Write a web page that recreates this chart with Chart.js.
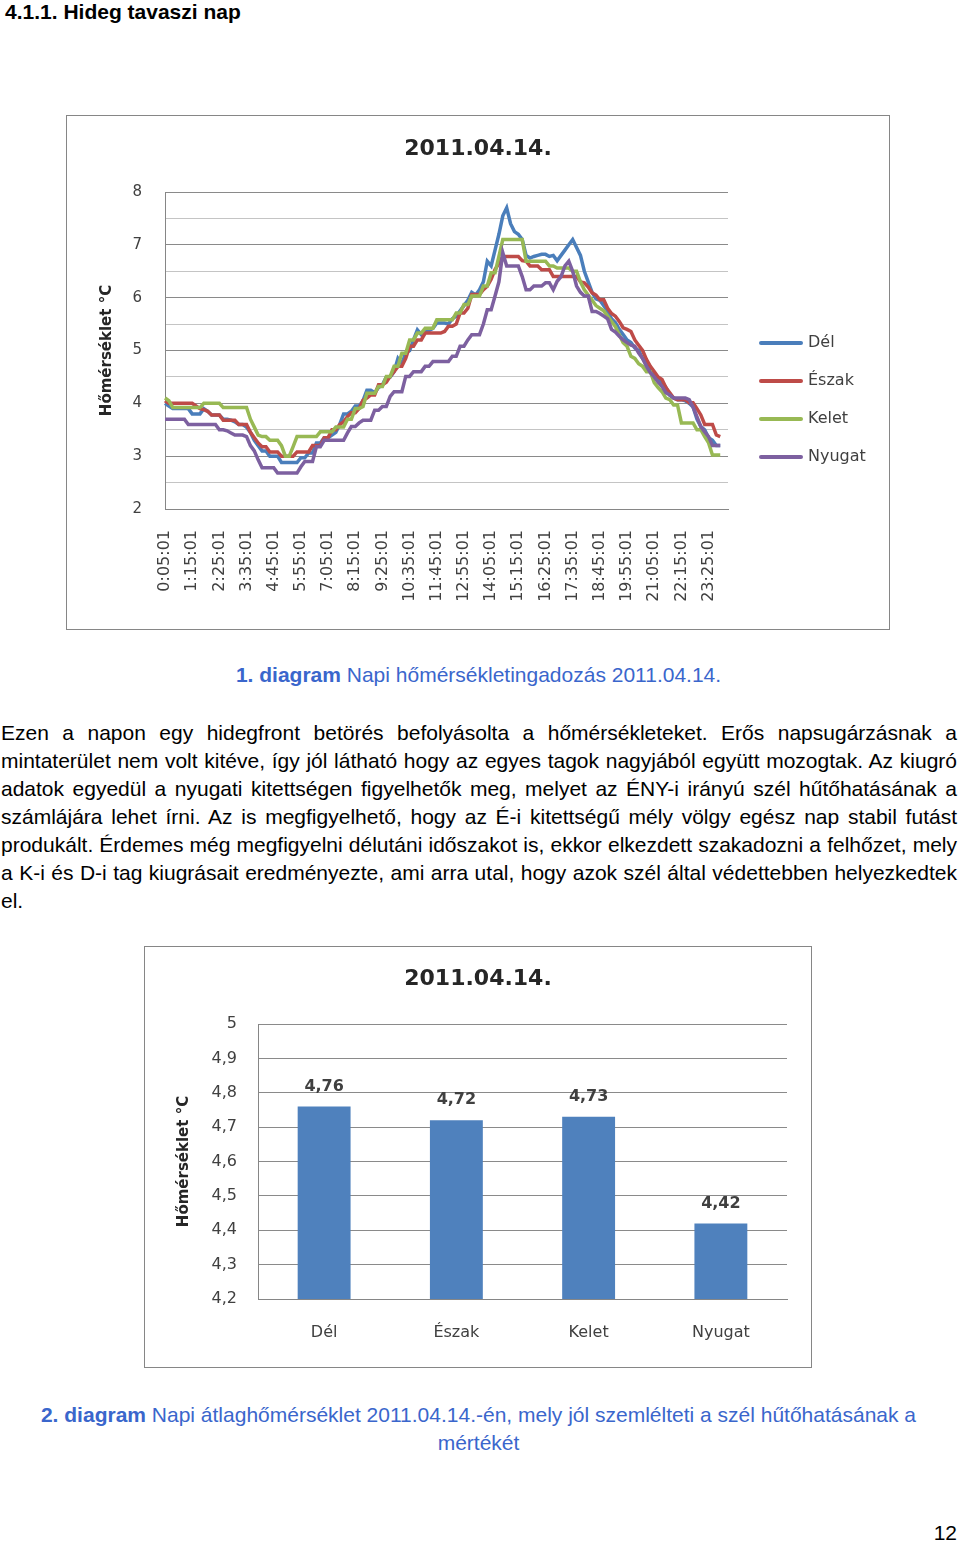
<!DOCTYPE html>
<html lang="hu">
<head>
<meta charset="utf-8">
<script src="https://cdn.jsdelivr.net/npm/chart.js@4"></script>
<style>
  html, body { margin: 0; padding: 0; background: #fff; }
  body { position: relative; width: 960px; height: 1543px; font-family: "Liberation Sans", Arial, sans-serif; color: #000; overflow: hidden; }
  h1 { position: absolute; left: 5px; top: 0; margin: 0; font-size: 21px; line-height: 24px; font-weight: bold; }
  .box { position: absolute; box-sizing: border-box; border: 1px solid #868686; background: #fff; }
  .box canvas { display: block; }
  .caption { position: absolute; left: 0; width: 957px; text-align: center; font-size: 21px; line-height: 27.5px; color: #3a66cc; }
  .caption b { font-weight: bold; }
  .para { position: absolute; left: 1px; top: 719px; width: 956px; font-size: 21px; line-height: 28px; }
  .para span { display: block; white-space: nowrap; text-align: justify; text-align-last: justify; }
  .para span.last { text-align-last: left; }
  .pageno { position: absolute; right: 3px; top: 1519px; font-size: 21px; line-height: 28px; }
</style>
</head>
<body>
<h1>4.1.1. Hideg tavaszi nap</h1>

<div class="box" style="left:66px; top:115px; width:824px; height:515px;">
  <canvas id="lineChart" width="822" height="513"></canvas>
</div>

<div class="caption" style="top:661px;"><b>1. diagram</b> Napi hőmérsékletingadozás 2011.04.14.</div>

<div class="para">
  <span>Ezen a napon egy hidegfront betörés befolyásolta a hőmérsékleteket. Erős napsugárzásnak a</span>
  <span>mintaterület nem volt kitéve, így jól látható hogy az egyes tagok nagyjából együtt mozogtak. Az kiugró</span>
  <span>adatok egyedül a nyugati kitettségen figyelhetők meg, melyet az ÉNY-i irányú szél hűtőhatásának a</span>
  <span>számlájára lehet írni. Az is megfigyelhető, hogy az É-i kitettségű mély völgy egész nap stabil futást</span>
  <span>produkált. Érdemes még megfigyelni délutáni időszakot is, ekkor elkezdett szakadozni a felhőzet, mely</span>
  <span>a K-i és D-i tag kiugrásait eredményezte, ami arra utal, hogy azok szél által védettebben helyezkedtek</span>
  <span class="last">el.</span>
</div>

<div class="box" style="left:144px; top:946px; width:668px; height:422px;">
  <canvas id="barChart" width="666" height="420"></canvas>
</div>

<div class="caption" style="top:1401px;"><b>2. diagram</b> Napi átlaghőmérséklet 2011.04.14.-én, mely jól szemlélteti a szél hűtőhatásának a<br>mértékét</div>

<div class="pageno">12</div>

<script>
// ---- data: 1. diagram (10 perces mérések) ----
const tickLabels = ['0:05:01','1:15:01','2:25:01','3:35:01','4:45:01','5:55:01','7:05:01',
  '8:15:01','9:25:01','10:35:01','11:45:01','12:55:01','14:05:01','15:15:01','16:25:01',
  '17:35:01','18:45:01','19:55:01','21:05:01','22:15:01','23:25:01'];

const series = ['Dél', 'Észak', 'Kelet', 'Nyugat'];
const colors = ['#4a7ebb', '#be4b48', '#98b954', '#7d60a0'];

const del = [
  4.0, 3.95, 3.9, 3.9, 3.9, 3.9, 3.9, 3.8, 3.8, 3.8,
  3.9, 3.85, 3.78, 3.78, 3.78, 3.7, 3.7, 3.68, 3.65, 3.6,
  3.6, 3.55, 3.45, 3.3, 3.2, 3.1, 3.1, 3.0, 3.0, 3.0,
  2.88, 2.88, 2.88, 2.88, 2.88, 2.97, 2.97, 3.06, 3.06, 3.25,
  3.25, 3.35, 3.35, 3.4, 3.45, 3.6, 3.8, 3.8, 3.85, 3.95,
  3.95, 4.05, 4.25, 4.25, 4.2, 4.3, 4.35, 4.5, 4.5, 4.6,
  4.85, 4.75, 4.95, 5.0, 5.2, 5.39, 5.3, 5.38, 5.38, 5.42,
  5.52, 5.52, 5.52, 5.5, 5.6, 5.65, 5.75, 5.85, 5.95, 6.1,
  6.05, 6.15, 6.3, 6.69, 6.6, 6.9, 7.2, 7.55, 7.7, 7.4,
  7.25, 7.2, 7.1, 6.8, 6.75, 6.78, 6.8, 6.82, 6.82, 6.78,
  6.8, 6.7, 6.8, 6.9, 7.0, 7.1, 6.95, 6.8, 6.5, 6.3,
  6.1, 5.98, 5.95, 5.85, 5.75, 5.6, 5.53, 5.4, 5.3, 5.2,
  5.15, 5.05, 5.0, 4.85, 4.75, 4.65, 4.55, 4.45, 4.4, 4.3,
  4.15, 4.1, 4.07, 4.07, 4.05, 4.0, 3.93, 3.7, 3.56, 3.5,
  3.35, 3.3, 3.2, 3.2
];
const eszak = [
  4.05, 4.0, 4.0, 4.0, 4.0, 4.0, 4.0, 4.0, 3.95, 3.9,
  3.88, 3.85, 3.78, 3.78, 3.78, 3.68, 3.68, 3.68, 3.68, 3.6,
  3.6, 3.6, 3.45, 3.35, 3.25, 3.18, 3.18, 3.08, 3.08, 3.08,
  3.0, 3.0, 3.0, 3.0, 3.08, 3.08, 3.08, 3.08, 3.2, 3.2,
  3.2, 3.35, 3.35, 3.5, 3.5, 3.6, 3.65, 3.75, 3.82, 3.82,
  3.9, 4.06, 4.1, 4.16, 4.16, 4.35, 4.35, 4.4, 4.51, 4.6,
  4.7, 4.7, 4.85, 5.08, 5.08, 5.2, 5.2, 5.33, 5.33, 5.33,
  5.33, 5.33, 5.36, 5.46, 5.46, 5.5, 5.71, 5.71, 5.8, 6.06,
  6.06, 6.06, 6.15, 6.22, 6.35, 6.53, 6.65, 6.78, 6.78, 6.78,
  6.78, 6.78, 6.7, 6.69, 6.6, 6.6, 6.6, 6.53, 6.53, 6.53,
  6.4, 6.4, 6.4, 6.4, 6.4, 6.4, 6.4, 6.3, 6.28, 6.2,
  6.09, 6.05, 5.96, 5.96, 5.8, 5.7, 5.65, 5.55, 5.43, 5.4,
  5.36, 5.2, 5.1, 5.0, 4.83, 4.7, 4.6, 4.5, 4.45, 4.3,
  4.2, 4.1, 4.07, 4.07, 4.07, 4.01, 4.01, 3.9, 3.78, 3.6,
  3.6, 3.6, 3.4, 3.37
];
const kelet = [
  4.1, 4.05, 3.92, 3.92, 3.92, 3.92, 3.92, 3.92, 3.92, 3.92,
  4.0, 4.0, 4.0, 4.0, 4.0, 3.92, 3.92, 3.92, 3.92, 3.92,
  3.92, 3.92, 3.7, 3.55, 3.4, 3.37, 3.37, 3.3, 3.3, 3.3,
  3.2, 3.0, 3.0, 3.18, 3.37, 3.37, 3.37, 3.37, 3.37, 3.37,
  3.46, 3.46, 3.46, 3.46, 3.55, 3.55, 3.55, 3.7, 3.7, 3.9,
  3.9, 3.94, 4.19, 4.19, 4.19, 4.32, 4.32, 4.51, 4.51, 4.7,
  4.7, 4.95, 4.95, 5.2, 5.2, 5.33, 5.33, 5.42, 5.42, 5.42,
  5.58, 5.58, 5.58, 5.58, 5.58, 5.71, 5.71, 5.87, 5.87, 6.03,
  6.03, 6.03, 6.22, 6.22, 6.47, 6.47, 6.78, 7.1, 7.1, 7.1,
  7.1, 7.1, 7.1, 6.69, 6.69, 6.69, 6.69, 6.69, 6.69, 6.6,
  6.6, 6.56, 6.56, 6.56, 6.56, 6.5, 6.5, 6.3, 6.15, 6.05,
  5.95, 5.85, 5.8, 5.75, 5.65, 5.55, 5.45, 5.3, 5.15, 5.08,
  4.89, 4.85, 4.75, 4.7, 4.6, 4.6, 4.39, 4.3, 4.22, 4.1,
  4.07, 3.97, 3.97, 3.63, 3.63, 3.63, 3.63, 3.5, 3.5, 3.37,
  3.25, 3.02, 3.02, 3.02
];
const nyugat = [
  3.7, 3.7, 3.7, 3.7, 3.7, 3.7, 3.6, 3.6, 3.6, 3.6,
  3.6, 3.6, 3.6, 3.6, 3.5, 3.5, 3.48, 3.44, 3.4, 3.4,
  3.4, 3.37, 3.2, 3.1, 2.93, 2.78, 2.78, 2.78, 2.78, 2.68,
  2.68, 2.68, 2.68, 2.68, 2.68, 2.8, 2.9, 2.9, 2.9, 3.18,
  3.18, 3.3, 3.3, 3.3, 3.3, 3.3, 3.3, 3.44, 3.56, 3.56,
  3.63, 3.68, 3.68, 3.68, 3.87, 3.87, 3.94, 3.94, 4.13, 4.22,
  4.22, 4.22, 4.51, 4.51, 4.6, 4.6, 4.6, 4.7, 4.7, 4.79,
  4.79, 4.79, 4.79, 4.79, 4.89, 4.89, 5.08, 5.08, 5.2, 5.3,
  5.3, 5.3, 5.5, 5.77, 5.77, 6.03, 6.3, 6.85, 6.6, 6.6,
  6.6, 6.6, 6.4, 6.15, 6.15, 6.22, 6.22, 6.22, 6.28, 6.28,
  6.15, 6.31, 6.4, 6.6, 6.69, 6.5, 6.22, 6.1, 6.03, 6.03,
  5.74, 5.74, 5.7, 5.65, 5.6, 5.4, 5.35, 5.27, 5.2, 5.15,
  5.1, 5.08, 4.95, 4.85, 4.7, 4.58, 4.5, 4.4, 4.32, 4.2,
  4.16, 4.1, 4.1, 4.1, 4.1, 4.07, 3.93, 3.75, 3.56, 3.46,
  3.37, 3.2, 3.2, 3.2
];

// ---- data: 2. diagram (napi átlag) ----
const avgLabels = ['Dél', 'Észak', 'Kelet', 'Nyugat'];
const avgValues = [4.76, 4.72, 4.73, 4.42];

// időbélyegek 10 percenként 0:05:01-től, a tengely végén két üres kategóriával
const times = [];
for (let m = 5; m < 24 * 60; m += 10) {
  times.push(Math.floor(m / 60) + ':' + String(m % 60).padStart(2, '0') + ':01');
}
times.push('', '');

Chart.defaults.font.family = '"DejaVu Sans", sans-serif';
Chart.defaults.color = '#404040';

const huNum = v => String(Number(v.toFixed(2))).replace('.', ',');

// üres jobb oldali tengely: helyet hagy a jelmagyarázatnak, a cím középen marad
const spacerAxis = w => ({
  position: 'right',
  display: true,
  grid: { display: false, drawTicks: false },
  border: { display: false },
  ticks: { display: false },
  afterFit(s) { s.width = w; }
});

// jelmagyarázat a diagram jobb oldalán
const sideLegend = {
  id: 'sideLegend',
  afterDraw(chart) {
    const { ctx, chartArea } = chart;
    ctx.save();
    ctx.font = '16px "DejaVu Sans"';
    ctx.textBaseline = 'middle';
    chart.data.datasets.forEach((ds, i) => {
      const y = 227 + i * 38;
      ctx.strokeStyle = ds.borderColor;
      ctx.lineWidth = 4;
      ctx.lineCap = 'round';
      ctx.beginPath();
      ctx.moveTo(chartArea.right + 33, y);
      ctx.lineTo(chartArea.right + 73, y);
      ctx.stroke();
      ctx.fillStyle = '#404040';
      ctx.fillText(ds.label, chartArea.right + 80, y);
    });
    ctx.restore();
  }
};

new Chart(document.getElementById('lineChart'), {
  type: 'line',
  data: {
    labels: times,
    datasets: [del, eszak, kelet, nyugat].map((d, i) => ({
      label: series[i],
      data: d,
      borderColor: colors[i],
      backgroundColor: colors[i],
      borderWidth: 3.5,
      pointRadius: 0,
      tension: 0,
      order: 4 - i
    }))
  },
  options: {
    responsive: false,
    animation: false,
    layout: { padding: 0 },
    plugins: {
      legend: { display: false },
      tooltip: { enabled: false },
      title: {
        display: true,
        text: '2011.04.14.',
        color: '#262626',
        font: { size: 22, weight: 'bold' },
        padding: { top: 20, bottom: 29.6 }
      }
    },
    scales: {
      x: {
        grid: { display: false, drawTicks: false },
        border: { display: true, color: '#868686' },
        ticks: {
          autoSkip: false,
          maxRotation: 90,
          minRotation: 90,
          padding: 21,
          color: '#404040',
          font: { size: 16 },
          callback(val) {
            const t = this.getLabelForValue(val);
            return tickLabels.includes(t) ? t : '';
          }
        },
        afterFit(s) { s.height = 120; }
      },
      y: {
        min: 2,
        max: 8,
        grid: {
          drawTicks: false,
          color: c => (c.tick && c.tick.value % 1 === 0 ? '#8a8a8a' : '#c4c4c4')
        },
        border: { display: true, color: '#868686' },
        ticks: {
          stepSize: 0.5,
          padding: 23,
          color: '#404040',
          font: { size: 15 },
          callback: v => (v % 1 === 0 ? v : '')
        },
        title: {
          display: true,
          text: 'Hőmérséklet °C',
          color: '#262626',
          font: { size: 15, weight: 'bold' },
          padding: { top: 31, bottom: 0 }
        },
        afterFit(s) { s.width = 98; }
      },
      yRight: spacerAxis(161)
    }
  },
  plugins: [sideLegend]
});

// értékfeliratok az oszlopok fölött
const barValueLabels = {
  id: 'barValueLabels',
  afterDatasetsDraw(chart) {
    const { ctx } = chart;
    const ds = chart.data.datasets[0];
    ctx.save();
    ctx.font = 'bold 16px "DejaVu Sans"';
    ctx.fillStyle = '#404040';
    ctx.textAlign = 'center';
    ctx.textBaseline = 'middle';
    chart.getDatasetMeta(0).data.forEach((bar, i) => {
      ctx.fillText(huNum(ds.data[i]), bar.x, bar.y - 20);
    });
    ctx.restore();
  }
};

new Chart(document.getElementById('barChart'), {
  type: 'bar',
  data: {
    labels: avgLabels,
    datasets: [{
      label: 'Átlag',
      data: avgValues,
      backgroundColor: '#4f81bd',
      borderWidth: 0,
      categoryPercentage: 1,
      barPercentage: 0.4
    }]
  },
  options: {
    responsive: false,
    animation: false,
    layout: { padding: 0 },
    plugins: {
      legend: { display: false },
      tooltip: { enabled: false },
      title: {
        display: true,
        text: '2011.04.14.',
        color: '#262626',
        font: { size: 22, weight: 'bold' },
        padding: { top: 18.8, bottom: 31.8 }
      }
    },
    scales: {
      x: {
        grid: { display: false, drawTicks: false },
        border: { display: true, color: '#868686' },
        ticks: { padding: 24, color: '#404040', font: { size: 16 } },
        afterFit(s) { s.height = 68; }
      },
      y: {
        min: 4.2,
        max: 5,
        grid: { drawTicks: false, color: '#8a8a8a' },
        border: { display: true, color: '#868686' },
        ticks: {
          stepSize: 0.1,
          padding: 21,
          color: '#404040',
          font: { size: 16 },
          callback: v => huNum(Number(v.toFixed(1)))
        },
        title: {
          display: true,
          text: 'Hőmérséklet °C',
          color: '#262626',
          font: { size: 15, weight: 'bold' },
          padding: { top: 30, bottom: 0 }
        },
        afterFit(s) { s.width = 113; }
      },
      yRight: spacerAxis(24)
    }
  },
  plugins: [barValueLabels]
});
</script>
</body>
</html>
